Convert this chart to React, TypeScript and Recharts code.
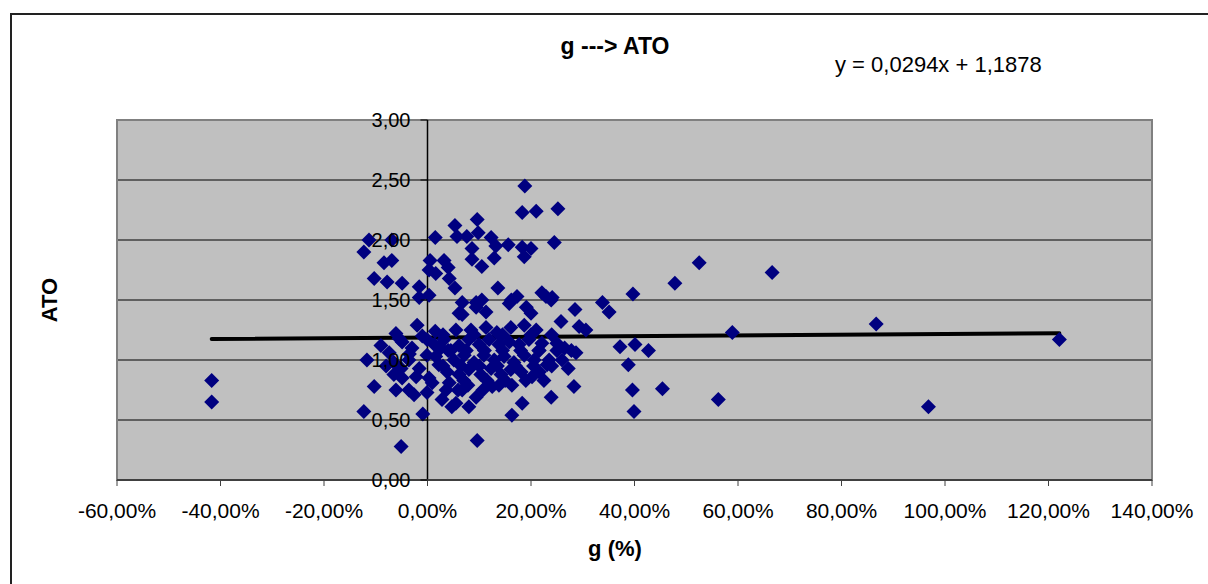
import React from 'react';
import {
  ScatterChart,
  Scatter,
  XAxis,
  YAxis,
  CartesianGrid,
  ReferenceLine,
  ReferenceDot,
  ReferenceArea
} from 'recharts';

// growth g (%) per observation
const gValues = [
  -41.7, -41.7, 122.1, 96.8, 86.7, 66.6, 52.5, 47.8, 58.9, 56.2,
  45.4, 42.7, 39.7, 40.1, 39.6, 39.9, 38.8, 37.2, 33.8, 35.1,
  30.6, 29.3, 28.5, 25.8, 28.3, 27.2, 23.9, 27.8, 28.7, 23.5,
  22.1, 25.0, 20.2, 21.0, 25.2, 24.5, 22.1, 24.1, 18.8, 18.3,
  20.0, 5.3, 9.6, 5.7, 7.6, 9.8, 1.5, 12.3, 8.6, 13.2,
  15.6, 18.3, 18.7, 8.6, 12.9, 10.5, 0.5, 3.2, 0.3, 1.6,
  4.0, 4.2, 5.3, -11.3, -12.3, -8.4, -6.9, -10.3, -7.8, -4.9,
  -1.6, -1.6, 0.3, 13.6, 6.7, 9.4, 10.5, 11.3, 6.7, 16.2,
  17.3, 19.1, 20.0, -6.9, -2.0, 1.5, -6.1, -9.0, -4.9, -3.0,
  -11.7, -7.4, -5.1, -0.1, 1.6, 2.6, -10.3, -6.1, -12.3, -5.1,
  -0.9, -0.1, 2.8, 4.7, 8.0, 9.6, 16.3, 18.3, 12.5, 16.3,
  6.1, 9.4, 15.8, 21.0, -2.2, -4.9, 6.7, 9.4, 4.2, 0.9,
  3.2, 4.5, 6.1, 8.0, 10.0, 11.9, 13.8, 15.8, 17.7, 19.6,
  5.1, 7.1, 9.0, 10.9, 12.9, 14.8, 16.7, 18.7, 20.6, 3.8,
  6.1, 8.0, 10.3, 12.3, 14.2, 16.1, 18.1, 21.6, 5.9, 7.8,
  10.7, 13.8, 8.4, 11.3, 13.4, 16.1, 18.7, 5.5, 21.6, 23.1,
  2.2, 1.3, -6.5, -3.6, -1.6, -6.5, -3.6, 0.3, -2.6, 22.9,
  23.9, 5.5, 3.6, 2.2, -0.1,
  4.0, 7.5, 11.0, 14.5, 18.0, 21.5, 25.0, 3.0, 6.5, 10.0,
  13.5, 17.0, 20.5, 24.0, 7.0, 11.5, 15.0, 19.0, 22.5, 3.0,
  9.0, 14.5, 20.0, 24.0, 26.5, 26.0, -3.5, -8.0, -5.5, -1.0
];

// asset turnover per observation
const atoValues = [
  0.83, 0.65, 1.17, 0.61, 1.30, 1.73, 1.81, 1.64, 1.23, 0.67,
  0.76, 1.08, 1.55, 1.13, 0.75, 0.57, 0.96, 1.11, 1.48, 1.40,
  1.25, 1.28, 1.42, 1.32, 0.78, 0.93, 0.69, 1.08, 1.06, 1.00,
  1.14, 1.14, 0.86, 2.24, 2.26, 1.98, 1.56, 1.52, 2.45, 2.23,
  1.93, 2.12, 2.17, 2.03, 2.03, 2.06, 2.02, 2.02, 1.93, 1.95,
  1.96, 1.94, 1.86, 1.84, 1.85, 1.78, 1.83, 1.83, 1.75, 1.72,
  1.77, 1.68, 1.60, 2.00, 1.90, 1.81, 1.83, 1.68, 1.65, 1.64,
  1.61, 1.52, 1.54, 1.60, 1.48, 1.48, 1.50, 1.40, 1.38, 1.50,
  1.53, 1.44, 1.39, 2.00, 1.29, 1.24, 1.22, 1.12, 1.15, 1.10,
  1.00, 1.06, 0.93, 1.04, 1.03, 1.10, 0.78, 0.75, 0.57, 0.28,
  0.55, 0.73, 0.67, 0.61, 0.61, 0.33, 0.54, 0.64, 0.78, 0.79,
  1.39, 1.44, 1.47, 1.25, 0.86, 0.85, 0.75, 0.69, 0.81, 0.81,
  1.17, 1.08, 1.12, 1.17, 1.13, 1.17, 1.13, 1.15, 1.13, 1.17,
  1.00, 1.04, 0.98, 1.04, 1.00, 1.03, 0.98, 1.04, 1.00, 0.90,
  0.88, 0.92, 0.88, 0.93, 0.88, 0.92, 0.90, 0.90, 0.75, 0.79,
  0.75, 0.79, 1.25, 1.27, 1.23, 1.27, 1.29, 1.25, 1.08, 0.96,
  0.96, 1.13, 0.98, 1.00, 0.93, 0.88, 0.75, 0.85, 0.71, 1.53,
  1.50, 0.64, 0.75, 1.11, 1.17,
  1.08, 1.08, 1.08, 1.08, 1.08, 1.08, 1.08, 0.95, 0.95, 0.95,
  0.95, 0.95, 0.95, 0.95, 0.83, 0.83, 0.83, 0.83, 0.83, 1.21,
  1.21, 1.21, 1.21, 1.21, 1.10, 1.00, 1.05, 0.95, 1.18, 1.20
];

const xTicks = [-60, -40, -20, 0, 20, 40, 60, 80, 100, 120, 140];
const yTicks = [0, 0.5, 1, 1.5, 2, 2.5, 3];

// linear trend, x given as a fraction
const trendSlope = 0.0294;
const trendIntercept = 1.1878;

const points = gValues.map((g, i) => ({ g, ato: atoValues[i] }));
const gMin = Math.min(...gValues);
const gMax = Math.max(...gValues);
const trendAt = (g: number) => trendSlope * (g / 100) + trendIntercept;

const FONT = '"Liberation Sans", Arial, sans-serif';
const comma = (v: number) => v.toFixed(2).replace('.', ',');

const Diamond = (props: any) => {
  const { cx, cy } = props;
  const r = 7.5;
  return (
    <polygon
      points={`${cx},${cy - r} ${cx + r},${cy} ${cx},${cy + r} ${cx - r},${cy}`}
      fill="#000080"
    />
  );
};

// value labels sit beside the vertical axis, which crosses at g = 0
const YTickMark = (props: any) => {
  const { cx, cy, label } = props;
  return (
    <g>
      <line x1={cx - 7} y1={cy} x2={cx} y2={cy} stroke="#000" strokeWidth={1} />
      <text
        x={cx - 17}
        y={cy}
        dy="0.36em"
        textAnchor="end"
        fontSize={20}
        fontFamily={FONT}
        fill="#000"
      >
        {label}
      </text>
    </g>
  );
};

export default function App() {
  return (
    <div
      style={{
        position: 'absolute',
        left: 0,
        top: 0,
        width: 1208,
        height: 584,
        overflow: 'hidden',
        background: '#fff',
        fontFamily: FONT
      }}
    >
      <div
        style={{
          position: 'absolute',
          left: 10,
          top: 13,
          width: 1400,
          height: 800,
          borderLeft: '2px solid #222',
          borderTop: '2px solid #222'
        }}
      />
      <ScatterChart
        width={1208}
        height={584}
        margin={{ top: 120, right: 56, bottom: 0, left: 117 }}
        style={{ position: 'absolute', left: 0, top: 0 }}
      >
        <CartesianGrid
          vertical={false}
          fill="#c0c0c0"
          stroke="#000"
          strokeWidth={1}
          horizontalValues={yTicks}
        />
        <ReferenceArea
          x1={-60}
          x2={140}
          y1={0}
          y2={3}
          fill="none"
          stroke="#808080"
          strokeWidth={2}
          ifOverflow="visible"
        />
        <XAxis
          type="number"
          dataKey="g"
          domain={[-60, 140]}
          ticks={xTicks}
          interval={0}
          allowDataOverflow
          height={104}
          tickSize={6}
          tickMargin={17}
          tickFormatter={(v: number) => `${comma(v)}%`}
          tick={{ fill: '#000', fontSize: 21, fontFamily: FONT }}
          axisLine={{ stroke: '#404040', strokeWidth: 2 }}
          tickLine={{ stroke: '#404040' }}
        />
        <YAxis type="number" dataKey="ato" domain={[0, 3]} ticks={yTicks} hide />
        <ReferenceLine x={0} stroke="#000" strokeWidth={1.5} />
        <Scatter data={points} shape={Diamond} isAnimationActive={false} />
        <ReferenceLine
          segment={[
            { x: gMin, y: trendAt(gMin) },
            { x: gMax, y: trendAt(gMax) }
          ]}
          stroke="#000"
          strokeWidth={4}
          strokeLinecap="round"
        />
        {yTicks.map((v) => (
          <ReferenceDot
            key={v}
            x={0}
            y={v}
            ifOverflow="visible"
            shape={(p: any) => <YTickMark {...p} label={comma(v)} />}
          />
        ))}
      </ScatterChart>
      <div
        style={{
          position: 'absolute',
          left: 515,
          width: 200,
          top: 33,
          textAlign: 'center',
          fontWeight: 'bold',
          fontSize: 23
        }}
      >
        g ---&gt; ATO
      </div>
      <div style={{ position: 'absolute', left: 835, top: 52, fontSize: 22 }}>
        y = 0,0294x + 1,1878
      </div>
      <div
        style={{
          position: 'absolute',
          left: 515,
          width: 200,
          top: 536,
          textAlign: 'center',
          fontWeight: 'bold',
          fontSize: 22
        }}
      >
        g (%)
      </div>
      <div
        style={{
          position: 'absolute',
          left: 50,
          top: 300,
          fontWeight: 'bold',
          fontSize: 22,
          transform: 'translate(-50%, -50%) rotate(-90deg)'
        }}
      >
        ATO
      </div>
    </div>
  );
}
